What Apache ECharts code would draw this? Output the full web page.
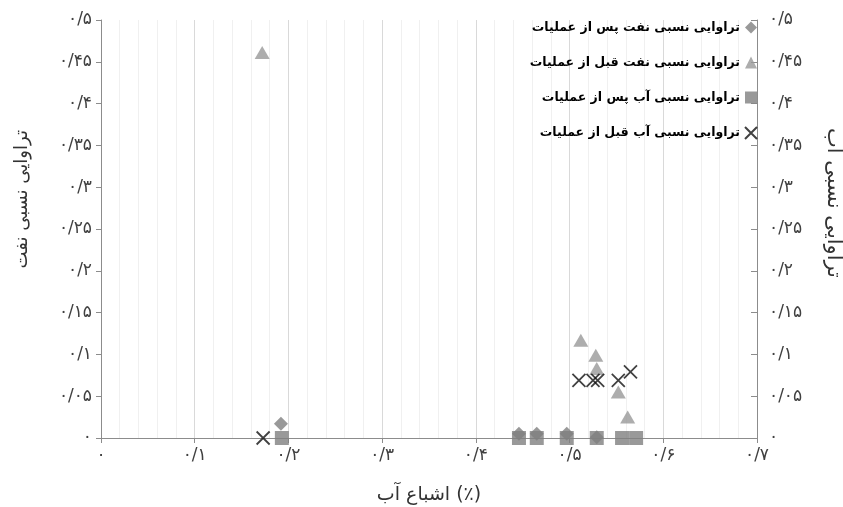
<!DOCTYPE html>
<html>
<head>
<meta charset="utf-8">
<script src="https://cdn.jsdelivr.net/npm/echarts@6/dist/echarts.min.js"></script>
<style>
html,body{margin:0;padding:0;background:#fff;}
#c{width:843px;height:507px;}
</style>
</head>
<body>
<div id="c"></div>
<script>
// ---- data ----
var seriesNames = [
  'تراوایی نسبی نفت پس از عملیات',
  'تراوایی نسبی نفت قبل از عملیات',
  'تراوایی نسبی آب پس از عملیات',
  'تراوایی نسبی آب قبل از عملیات'
];
var oilAfterX = [0.192, 0.446, 0.465, 0.497, 0.529];
var oilAfterY = [0.017, 0.005, 0.005, 0.005, 0.001];
var oilBeforeX = [0.172, 0.512, 0.528, 0.529, 0.552, 0.562];
var oilBeforeY = [0.461, 0.117, 0.099, 0.083, 0.055, 0.025];
var waterAfterX = [0.193, 0.446, 0.465, 0.497, 0.529, 0.556, 0.571];
var waterAfterY = [0, 0, 0, 0, 0, 0, 0];
var waterBeforeX = [0.173, 0.510, 0.525, 0.530, 0.552, 0.565];
var waterBeforeY = [0, 0.069, 0.069, 0.069, 0.069, 0.079];

var xTickLabels = ['۰','۰/۱','۰/۲','۰/۳','۰/۴','۰/۵','۰/۶','۰/۷'];
var yTickLabels = ['۰','۰/۰۵','۰/۱','۰/۱۵','۰/۲','۰/۲۵','۰/۳','۰/۳۵','۰/۴','۰/۴۵','۰/۵'];
var xTitle = 'اشباع آب (٪)';
var yLeftTitle = 'تراوایی نسبی نفت';
var yRightTitle = 'تراوایی نسبی آب';

function pairs(xs, ys){ return xs.map(function(x,i){ return [x, ys[i]]; }); }

var FONT = 'DejaVu Sans';
var chart = echarts.init(document.getElementById('c'));
var yAxisCommon = {
  type: 'value', min: 0, max: 0.5, interval: 0.05,
  splitLine: {show: false},
  axisLine: {show: true, lineStyle: {color: '#8c8c8c', width: 1}},
  axisLabel: {
    color: '#404040', fontSize: 17, fontFamily: FONT,
    formatter: function(v){ return yTickLabels[Math.round(v/0.05)]; }
  }
};
chart.setOption({
  animation: false,
  grid: {left: 101, right: 86, top: 20, bottom: 69, containLabel: false, outerBoundsMode: 'none'},
  legend: {
    orient: 'vertical', right: 85, top: 21, align: 'right', padding: 0,
    itemWidth: 12, itemHeight: 12, itemGap: 22,
    textStyle: {color: '#000', fontSize: 12.5, fontWeight: 'bold', fontFamily: FONT},
    data: seriesNames
  },
  xAxis: {
    type: 'value', min: 0, max: 0.7, interval: 0.1,
    name: xTitle, nameLocation: 'middle', nameGap: 48,
    nameTextStyle: {color: '#333', fontSize: 19, fontFamily: FONT},
    axisLine: {show: true, lineStyle: {color: '#8c8c8c'}},
    axisTick: {show: true, length: 5, lineStyle: {color: '#8c8c8c'}},
    axisLabel: {
      color: '#404040', fontSize: 17, fontFamily: FONT, margin: 9,
      formatter: function(v){ return xTickLabels[Math.round(v/0.1)]; }
    },
    splitLine: {show: true, lineStyle: {color: '#d9d9d9', width: 1}},
    minorTick: {show: false, splitNumber: 5},
    minorSplitLine: {show: true, lineStyle: {color: '#f0f0f0', width: 1}}
  },
  yAxis: [
    Object.assign({}, yAxisCommon, {
      position: 'left',
      axisTick: {show: true, length: 5, inside: false, lineStyle: {color: '#8c8c8c'}},
      axisLabel: Object.assign({}, yAxisCommon.axisLabel, {margin: 9})
    }),
    Object.assign({}, yAxisCommon, {
      position: 'right',
      axisTick: {show: true, length: 6, inside: true, lineStyle: {color: '#8c8c8c'}},
      axisLabel: Object.assign({}, yAxisCommon.axisLabel, {margin: 12})
    })
  ],
  graphic: [
    {type: 'text', left: 13, top: 130, rotation: Math.PI/2,
      style: {text: yLeftTitle, fill: '#333', font: '18px "DejaVu Sans"'}},
    {type: 'text', left: 823, top: 128, rotation: -Math.PI/2,
      style: {text: yRightTitle, fill: '#333', font: '21px "DejaVu Sans"'}}
  ],
  series: [
    {name: seriesNames[0], type: 'scatter', yAxisIndex: 0, symbol: 'diamond', symbolSize: 14,
      itemStyle: {color: '#7f7f7f'}, data: pairs(oilAfterX, oilAfterY)},
    {name: seriesNames[1], type: 'scatter', yAxisIndex: 0, symbol: 'triangle', symbolSize: [15, 13],
      itemStyle: {color: '#999999'}, data: pairs(oilBeforeX, oilBeforeY)},
    {name: seriesNames[2], type: 'scatter', yAxisIndex: 1, symbol: 'rect', symbolSize: 14,
      itemStyle: {color: '#808080'}, data: pairs(waterAfterX, waterAfterY)},
    {name: seriesNames[3], type: 'scatter', yAxisIndex: 1, symbol: 'path://M0,0L10,10M10,0L0,10', symbolSize: 13,
      itemStyle: {color: 'rgba(0,0,0,0)', borderColor: '#111', borderWidth: 1.8}, data: pairs(waterBeforeX, waterBeforeY)}
  ]
});
</script>
</body>
</html>
